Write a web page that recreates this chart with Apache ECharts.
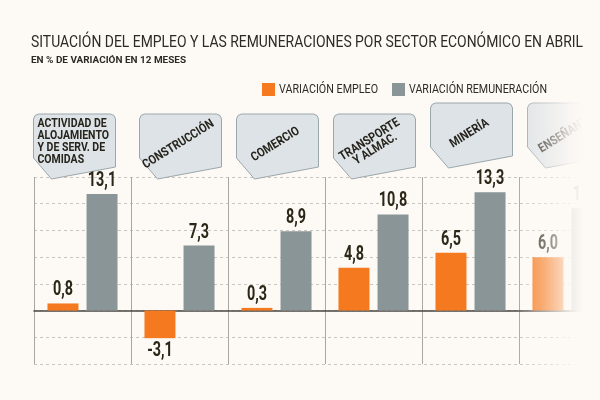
<!DOCTYPE html>
<html>
<head>
<meta charset="utf-8">
<script src="https://cdn.jsdelivr.net/npm/echarts@6/dist/echarts.min.js"></script>
<style>
  html, body { margin: 0; padding: 0; background: #fdf9f5; }
  #main { width: 600px; height: 400px; }
</style>
</head>
<body>
<div id="main"></div>
<script>
// sectores (texto de las pestañas)
const sectores = [
  'ACTIVIDAD DE\nALOJAMIENTO\nY DE SERV. DE\nCOMIDAS',
  'CONSTRUCCIÓN',
  'COMERCIO',
  'TRANSPORTE\nY ALMAC.',
  'MINERÍA',
  'ENSEÑANZA'
];
// variación en 12 meses, %
const variacionEmpleo = [0.8, -3.1, 0.3, 4.8, 6.5, 6.0];
const variacionRemuneracion = [13.1, 7.3, 8.9, 10.8, 13.3, 11.5];

const titulo = 'SITUACIÓN DEL EMPLEO Y LAS REMUNERACIONES POR SECTOR ECONÓMICO EN ABRIL';
const subtitulo = 'EN % DE VARIACIÓN EN 12 MESES';
const nombres = ['VARIACIÓN EMPLEO', 'VARIACIÓN REMUNERACIÓN'];
const colores = ['#f57a1f', '#899597'];

const fondo = '#fdf9f5';
const tinta = '#2b2a24';

// medir texto para comprimirlo (la tipografia original es angosta)
const ctx = document.createElement('canvas').getContext('2d');
function medir(texto, peso, tam) {
  ctx.font = peso + ' ' + tam + 'px Roboto';
  return ctx.measureText(texto).width;
}

let chart = echarts.init(document.getElementById('main'));

// pestaña sobre cada categoria
function renderPestana(params, api) {
  const idx = api.value(0);
  const tope = api.coord([idx, 15]);
  const desplazaX = idx === 0 ? -8 : 1;
  const desplazaY = idx >= 4 ? -11 : 0;
  const cx = tope[0] + desplazaX;
  const gy = tope[1] + desplazaY;
  const w = 82;
  const x0 = cx - w / 2, x1 = cx + w / 2;
  const yTop = gy - 63, yIzq = gy - 19, yPunta = gy + 2, yDer = gy - 10;
  const r = 5;
  const puntos = [
    [x0, yTop + r], [x0 + 1.5, yTop + 1.5], [x0 + r, yTop],
    [x1 - r, yTop], [x1 - 1.5, yTop + 1.5], [x1, yTop + r],
    [x1, yDer], [x0 + 18, yPunta], [x0, yIzq]
  ];
  const children = [{
    type: 'polygon',
    shape: { points: puntos },
    style: { fill: '#dde3e6', stroke: '#9ca7ab', lineWidth: 1 }
  }];
  if (idx === 0) {
    children.push({
      type: 'text',
      x: x0 + 4, y: yTop + 4,
      scaleX: 0.84,
      style: {
        text: sectores[idx], fill: '#26241c', fontSize: 12.5, fontWeight: 'bold',
        fontFamily: 'Roboto', lineHeight: 12, align: 'left', verticalAlign: 'top'
      }
    });
  } else {
    children.push({
      type: 'text',
      x: cx - 2, y: (yTop + yDer) / 2 + 4,
      rotation: 32 * Math.PI / 180,
      scaleX: 0.86,
      style: {
        text: sectores[idx], fill: '#26241c', fontSize: 12.5, fontWeight: 'bold',
        fontFamily: 'Roboto', lineHeight: 11, align: 'center', verticalAlign: 'middle'
      }
    });
  }
  return { type: 'group', children: children };
}

// etiquetas de valor, comprimidas
function renderEtiqueta(desplaza) {
  return function (params, api) {
    const i = api.value(0);
    const v = api.value(1);
    const p = api.coord([i, v]);
    const negativo = v < 0;
    return {
      type: 'text',
      x: p[0] + desplaza,
      y: negativo ? p[1] + 3 : p[1] - 3,
      scaleX: 0.72,
      style: {
        text: v.toFixed(1).replace('.', ','),
        fill: '#2b2618',
        fontSize: 20,
        fontWeight: 'bold',
        fontFamily: 'Roboto',
        align: 'center',
        verticalAlign: negativo ? 'top' : 'bottom'
      }
    };
  };
}

// leyenda dibujada a mano para poder comprimir el texto
const leyenda = [];
const leyX = [262, 392];
const leyAncho = [99, 138];
nombres.forEach((n, k) => {
  leyenda.push({
    type: 'rect',
    shape: { x: leyX[k], y: 83, width: 13, height: 13 },
    style: { fill: colores[k] }
  });
  leyenda.push({
    type: 'text',
    x: leyX[k] + 17, y: 90,
    scaleX: leyAncho[k] / medir(n, 'normal', 12),
    style: { text: n, fill: tinta, fontSize: 12, fontFamily: 'Roboto', verticalAlign: 'middle' }
  });
});

chart.setOption({
  backgroundColor: fondo,
  animation: false,
  // la ultima categoria se sale del lienzo, como en el original
  grid: { left: 34, top: 177, width: 582, height: 187, outerBoundsMode: 'none' },
  xAxis: {
    type: 'category',
    data: sectores,
    axisTick: { show: false },
    axisLabel: { show: false, interval: 0 },
    axisLine: { onZero: true, lineStyle: { color: '#4a4640', width: 1.5 } },
    splitLine: { show: true, interval: 0, lineStyle: { color: '#a9a5a0', width: 1 } }
  },
  yAxis: {
    type: 'value',
    min: -6,
    max: 15,
    interval: 3,
    axisLabel: { show: false },
    axisLine: { show: false },
    axisTick: { show: false },
    splitLine: { lineStyle: { color: '#c9c5c0', type: [3, 3] } }
  },
  series: [
    {
      name: nombres[0],
      type: 'bar',
      barWidth: 31,
      barGap: '26%',
      itemStyle: { color: colores[0] },
      data: variacionEmpleo
    },
    {
      name: nombres[1],
      type: 'bar',
      barWidth: 31,
      itemStyle: { color: colores[1] },
      data: variacionRemuneracion
    },
    {
      type: 'custom',
      renderItem: renderEtiqueta(-19.5),
      clip: false,
      silent: true,
      z: 5,
      data: variacionEmpleo.map((v, i) => [i, v])
    },
    {
      type: 'custom',
      renderItem: renderEtiqueta(19.5),
      clip: false,
      silent: true,
      z: 5,
      data: variacionRemuneracion.map((v, i) => [i, v])
    },
    {
      type: 'custom',
      renderItem: renderPestana,
      clip: false,
      silent: true,
      data: sectores.map((s, i) => [i, 15])
    }
  ],
  graphic: [
    {
      type: 'text',
      x: 31, y: 43,
      scaleX: 552 / medir(titulo, 'normal', 16),
      style: { text: titulo, fill: tinta, fontSize: 16, fontFamily: 'Roboto', verticalAlign: 'middle' }
    },
    {
      type: 'text',
      x: 31, y: 61,
      scaleX: 155 / medir(subtitulo, 'bold', 9.5),
      style: { text: subtitulo, fill: tinta, fontSize: 9.5, fontWeight: 'bold', fontFamily: 'Roboto', verticalAlign: 'middle' }
    },
    ...leyenda,
    {
      // desvanecido hacia la derecha
      type: 'rect',
      z: 100,
      silent: true,
      shape: { x: 515, y: 98, width: 85, height: 302 },
      style: {
        fill: new echarts.graphic.LinearGradient(0, 0, 1, 0, [
          { offset: 0, color: 'rgba(253,249,245,0)' },
          { offset: 0.19, color: 'rgba(253,249,245,0.25)' },
          { offset: 0.35, color: 'rgba(253,249,245,0.42)' },
          { offset: 0.55, color: 'rgba(253,249,245,0.7)' },
          { offset: 0.65, color: 'rgba(253,249,245,0.87)' },
          { offset: 0.8, color: 'rgba(253,249,245,1)' },
          { offset: 1, color: 'rgba(253,249,245,1)' }
        ])
      }
    }
  ]
});
</script>
</body>
</html>
